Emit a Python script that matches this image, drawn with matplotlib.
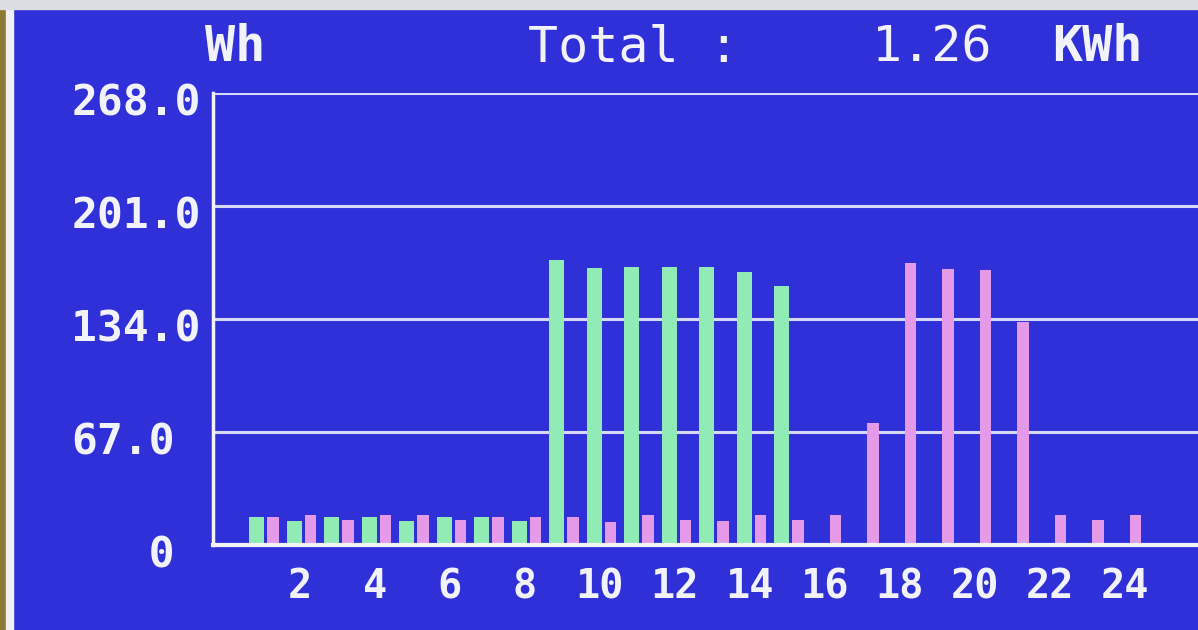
import matplotlib
matplotlib.use("Agg")
import matplotlib.pyplot as plt
from matplotlib.patches import Rectangle
from matplotlib.transforms import ScaledTranslation

# hourly energy, Wh
hours = list(range(1, 25))
green_wh = [16.4, 14.4, 16.4, 16.4, 14.4, 16.4, 16.4, 14.4,
            169.0, 164.0, 165.0, 165.0, 165.0, 162.0, 153.5,
            0, 0, 0, 0, 0, 0, 0, 0, 0]
pink_wh = [16.4, 17.8, 14.8, 17.8, 17.8, 14.8, 16.4, 16.4,
           16.6, 13.6, 17.8, 14.8, 14.2, 17.8, 14.8, 17.8,
           72.3, 167.0, 163.6, 163.0, 132.0, 17.8, 14.8, 17.8]
y_ticks = [0, 67, 134, 201, 268]
y_labels = ["   0", "67.0", "134.0", "201.0", "268.0"]
x_ticks = list(range(2, 25, 2))
total_kwh = "1.26"

BLUE = "#3030d8"
GREEN = "#90ecb4"
PINK = "#e49ae8"
WHITE = "#f2f2fa"
GRIDC = "#d8d8f8"
MONO = "DejaVu Sans Mono"

fig = plt.figure(figsize=(11.98, 6.30), dpi=100, facecolor=BLUE)

# photo frame: gold edge + white bezel on the left, grey strip on top
fig.patches.append(Rectangle((0, 0), 6 / 1198, 1, transform=fig.transFigure,
                             color="#8c7a34", zorder=0))
fig.patches.append(Rectangle((6 / 1198, 0), 7 / 1198, 1, transform=fig.transFigure,
                             color="#f0f0f4", zorder=0))
fig.patches.append(Rectangle((0, 1 - 9 / 630), 1, 9 / 630, transform=fig.transFigure,
                             color="#dcdce4", zorder=0))

ax = fig.add_axes([213 / 1198, 85 / 630, 985 / 1198, 452 / 630])
ax.set_facecolor(BLUE)

ax.bar([h - 0.15 for h in hours], green_wh, width=0.40, color=GREEN, zorder=3)
ax.bar([h + 0.28 for h in hours], pink_wh, width=0.30, color=PINK, zorder=3)

ax.set_xlim(-0.32, 25.95)
ax.set_ylim(0, 268)

ax.set_yticks(y_ticks)
ax.set_yticklabels(y_labels, fontfamily=MONO, fontsize=31, fontweight="bold",
                   color=WHITE, ha="left")
ax.tick_params(axis="y", length=0, pad=102)
for lab in ax.get_yticklabels():
    lab.set_transform(lab.get_transform() + ScaledTranslation(0, -4 / 72, fig.dpi_scale_trans))

ax.set_xticks(x_ticks)
ax.set_xticklabels([str(t) for t in x_ticks], fontfamily=MONO, fontsize=29,
                   fontweight="bold", color=WHITE)
ax.tick_params(axis="x", length=0, pad=16)

ax.grid(axis="y", color=GRIDC, linewidth=2.2, zorder=1)
ax.set_axisbelow(True)
for s in ["top", "right"]:
    ax.spines[s].set_visible(False)
ax.spines["left"].set_color(WHITE)
ax.spines["left"].set_linewidth(2.5)
ax.spines["bottom"].set_color(WHITE)
ax.spines["bottom"].set_linewidth(3)
ax.spines["bottom"].set_zorder(4)

# header line of the LCD
head_y = 1 - 47 / 630
fig.text(205 / 1198, head_y, "Wh", fontfamily=MONO, fontsize=36, fontweight="bold",
         color=WHITE, va="center", ha="left")
fig.text(528 / 1198, head_y, "Total :", fontfamily=MONO, fontsize=36,
         color=WHITE, va="center", ha="left")
fig.text(872 / 1198, head_y, total_kwh, fontfamily=MONO, fontsize=36,
         color=WHITE, va="center", ha="left")
fig.text(1052 / 1198, head_y, "KWh", fontfamily=MONO, fontsize=36, fontweight="bold",
         color=WHITE, va="center", ha="left")

fig.savefig("out.png", dpi=100, facecolor=fig.get_facecolor())
